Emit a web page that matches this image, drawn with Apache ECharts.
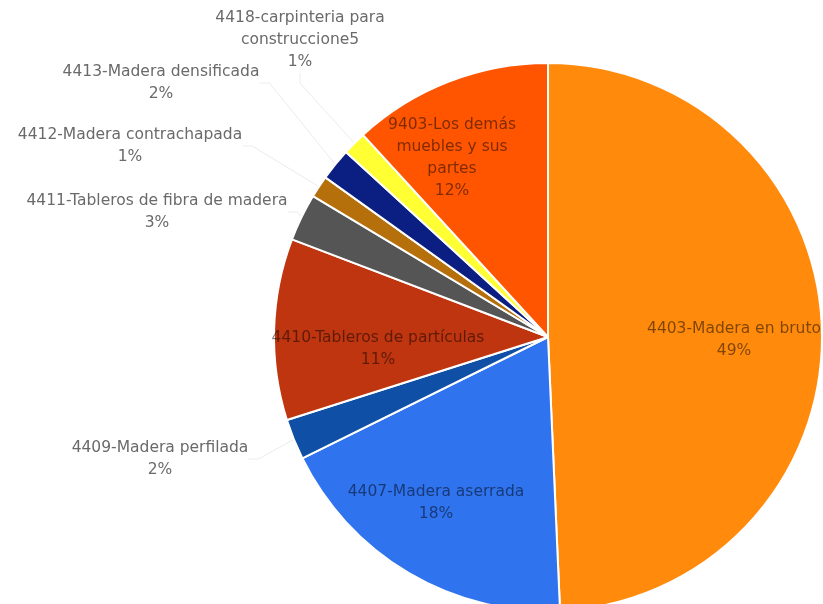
<!DOCTYPE html>
<html><head><meta charset="utf-8">
<script src="https://cdn.jsdelivr.net/npm/echarts@6/dist/echarts.min.js"></script>
<style>html,body{margin:0;padding:0;background:#fff}#c{width:823px;height:604px}</style>
</head><body><div id="c"></div>
<script>
// Data
const categories = [
  '4403-Madera en bruto',
  '4407-Madera aserrada',
  '4409-Madera perfilada',
  '4410-Tableros de partículas',
  '4411-Tableros de fibra de madera',
  '4412-Madera contrachapada',
  '4413-Madera densificada',
  '4418-carpinteria para\nconstruccione5',
  '9403-Los demás\nmuebles y sus\npartes'
];
const values = [49.3, 18.4, 2.4, 10.7, 2.8, 1.3, 1.9, 1.4, 11.8];

// Styles (not data)
const colors = ['#FF8A0C','#2F73EE','#0F4FA6','#BF350F','#555555','#B5700C','#0B1E82','#FFFF33','#FF5500'];
const inside = [true, true, false, true, false, false, false, false, true];
const labelAnchors = [
  [734, 340], [436, 503], [160, 459], [378, 349], [157, 212],
  [130, 146], [161, 83], [300, 40], [452, 158]
];

const total = values.reduce((a, b) => a + b, 0);
const chart = echarts.init(document.getElementById('c'), null, {renderer: 'canvas'});
chart.setOption({
  backgroundColor: '#ffffff',
  animation: false,
  series: [{
    type: 'pie',
    center: [548, 337],
    radius: [0, 274],
    startAngle: 90,
    clockwise: true,
    avoidLabelOverlap: false,
    itemStyle: {borderColor: '#ffffff', borderWidth: 2},
    label: {
      fontFamily: 'DejaVu Sans',
      fontSize: 15.5,
      lineHeight: 22,
      align: 'center',
      formatter: p => p.name + '\n' + Math.round(p.value / total * 100) + '%'
    },
    labelLine: {show: true, length: 20, length2: 10, lineStyle: {color: '#ececec', width: 1}},
    labelLayout: p => ({
      x: labelAnchors[p.dataIndex][0],
      y: labelAnchors[p.dataIndex][1],
      align: 'center',
      verticalAlign: 'middle'
    }),
    data: categories.map((name, i) => ({
      name: name,
      value: values[i],
      itemStyle: {color: colors[i]},
      label: inside[i]
        ? {position: 'inside', color: 'rgba(0,0,0,0.5)'}
        : {position: 'outside', color: '#6a6a6a'},
      labelLine: {show: !inside[i]}
    }))
  }]
});
</script></body></html>
